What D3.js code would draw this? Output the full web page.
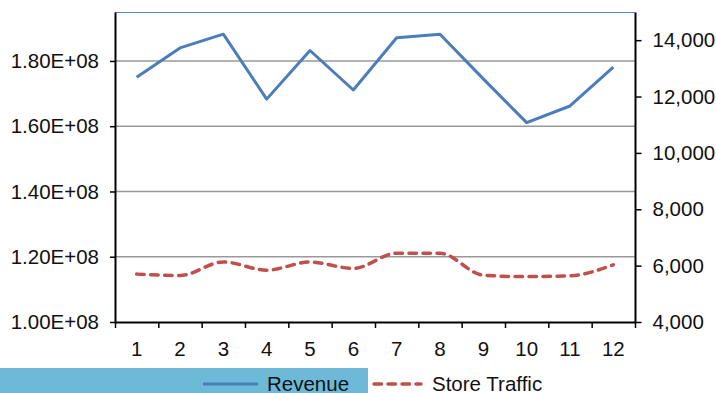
<!DOCTYPE html>
<html>
<head>
<meta charset="utf-8">
<script src="https://cdn.jsdelivr.net/npm/d3@7"></script>
<style>
    body { margin: 0; background: #fff; }
    svg { display: block; }
    text { font-family: "Liberation Sans", Arial, Helvetica, sans-serif; fill: #111; }
</style>
</head>
<body>
<div class="chart"></div>
<script>
const width = 716, height = 393;

const months = [1, 2, 3, 4, 5, 6, 7, 8, 9, 10, 11, 12];
const revenue = [1.75e8, 1.84e8, 1.882e8, 1.683e8, 1.832e8, 1.711e8, 1.871e8, 1.882e8, 1.745e8, 1.611e8, 1.662e8, 1.781e8];
const store_traffic = [5700, 5650, 6130, 5840, 6130, 5900, 6440, 6440, 5660, 5610, 5640, 6030];
const left_ticks = [1.0e8, 1.2e8, 1.4e8, 1.6e8, 1.8e8];
const right_ticks = [4000, 6000, 8000, 10000, 12000, 14000];
const legend_labels = ['Revenue', 'Store Traffic'];

const blue = '#4a7ebb', red = '#c0504d';
const fontSize = 20.5;

let padding = {'left': 115, 'right': width - 635, 'top': 12, 'bottom': height - 322};
let plot_b = height - padding.bottom;

let svg = d3.select('.chart')
    .append('svg')
    .attr('width', width)
    .attr('height', height);

// scales
let x = d3.scaleBand()
    .domain(months)
    .range([padding.left, width - padding.right]);
let x_edges = d3.scaleLinear()
    .domain([0, 12])
    .range([padding.left, width - padding.right]);
let y_left = d3.scaleLinear()
    .domain([1.0e8, 1.95e8])
    .range([plot_b, padding.top]);
let y_right = d3.scaleLinear()
    .domain([4000, 15000])
    .range([plot_b, padding.top]);

// gridlines
svg.append('g')
    .selectAll('line')
    .data(left_ticks.slice(1))
    .enter().append('line')
    .attr('x1', padding.left)
    .attr('x2', width - padding.right)
    .attr('y1', d => y_left(d))
    .attr('y2', d => y_left(d))
    .attr('stroke', '#999')
    .attr('stroke-width', 1.5);

// thin top border
svg.append('line')
    .attr('x1', padding.left)
    .attr('x2', width - padding.right)
    .attr('y1', padding.top + 0.5)
    .attr('y2', padding.top + 0.5)
    .attr('stroke', '#5b8ac4')
    .attr('stroke-width', 1);

// left axis
let axis_left = d3.axisLeft(y_left)
    .tickValues(left_ticks)
    .tickSize(5)
    .tickSizeOuter(0)
    .tickPadding(11)
    .tickFormat(d => (d / 1e8).toFixed(2) + 'E+08');
svg.append('g')
    .attr('class', 'axis')
    .attr('transform', `translate(${padding.left}, 0)`)
    .call(axis_left);

// right axis
let axis_right = d3.axisRight(y_right)
    .tickValues(right_ticks)
    .tickSize(6.5)
    .tickSizeOuter(0)
    .tickPadding(11)
    .tickFormat(d3.format(','));
svg.append('g')
    .attr('class', 'axis')
    .attr('transform', `translate(${width - padding.right}, 0)`)
    .call(axis_right);

// bottom axis - tick marks between months
svg.append('g')
    .attr('class', 'axis')
    .attr('transform', `translate(0, ${plot_b})`)
    .call(d3.axisBottom(x_edges).ticks(12).tickSize(6).tickSizeOuter(0).tickFormat(''));

// bottom axis - month labels
svg.append('g')
    .attr('class', 'axis labels_only')
    .attr('transform', `translate(0, ${plot_b})`)
    .call(d3.axisBottom(x).tickSize(0).tickPadding(19))
    .select('.domain').remove();

svg.selectAll('.axis .domain')
    .attr('stroke', '#000')
    .attr('stroke-width', 2);
svg.selectAll('.axis .tick line')
    .attr('stroke', '#000')
    .attr('stroke-width', 1.5);
svg.selectAll('.axis text')
    .attr('font-family', '"Liberation Sans", Arial, sans-serif')
    .attr('font-size', fontSize)
    .attr('fill', '#111');

// lines
let revenue_line = d3.line()
    .x((d, i) => x(months[i]) + x.bandwidth() / 2)
    .y(d => y_left(d));
svg.append('path')
    .datum(revenue)
    .attr('d', revenue_line)
    .attr('fill', 'none')
    .attr('stroke', blue)
    .attr('stroke-width', 3)
    .attr('stroke-linejoin', 'round');

// traffic is drawn smoothed, flat between equal months
let traffic_line = d3.line()
    .x((d, i) => x(months[i]) + x.bandwidth() / 2)
    .y(d => y_right(d))
    .curve(d3.curveMonotoneX);
svg.append('path')
    .datum(store_traffic)
    .attr('d', traffic_line)
    .attr('fill', 'none')
    .attr('stroke', red)
    .attr('stroke-width', 3.5)
    .attr('stroke-dasharray', '7.5,6.5')
    .attr('stroke-linecap', 'round');

// legend
let legend = svg.append('g');
legend.append('rect')
    .attr('x', 0)
    .attr('y', 368)
    .attr('width', 368)
    .attr('height', height - 368)
    .attr('fill', '#6cb9d8');

let legend_items = [
    {'label': legend_labels[0], 'x1': 203, 'x2': 258, 'tx': 267, 'color': blue, 'dash': null, 'w': 3},
    {'label': legend_labels[1], 'x1': 374, 'x2': 421, 'tx': 432, 'color': red, 'dash': '7.5,6.5', 'w': 3.5}
];
legend_items.forEach(item => {
    legend.append('line')
        .attr('x1', item.x1)
        .attr('x2', item.x2)
        .attr('y1', 384)
        .attr('y2', 384)
        .attr('stroke', item.color)
        .attr('stroke-width', item.w)
        .attr('stroke-dasharray', item.dash)
        .attr('stroke-linecap', item.dash ? 'round' : 'butt');
    legend.append('text')
        .attr('x', item.tx)
        .attr('y', 390.5)
        .attr('font-size', fontSize)
        .text(item.label);
});
</script>
</body>
</html>
